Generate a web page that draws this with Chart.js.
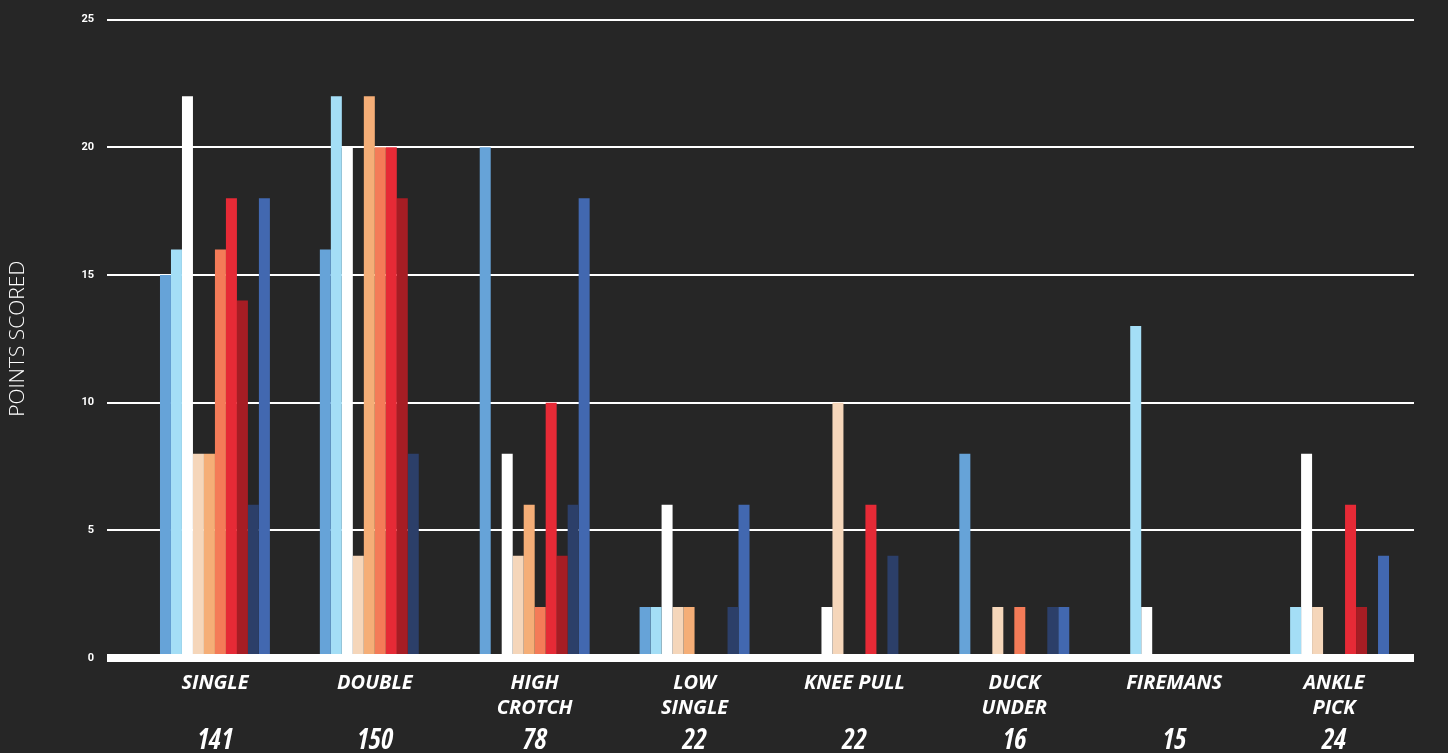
<!DOCTYPE html>
<html>
<head>
<meta charset="utf-8">
<script src="https://cdn.jsdelivr.net/npm/chart.js@4.4.1/dist/chart.umd.min.js"></script>
<style>
    html, body { margin: 0; padding: 0; background: #262626; }
    #wrap { width: 1448px; height: 753px; }
</style>
</head>
<body>
<div id="wrap"><canvas id="movesChart"></canvas></div>
<script>
// takedown types and total points per move
const moves = [['SINGLE'], ['DOUBLE'], ['HIGH', 'CROTCH'], ['LOW', 'SINGLE'], ['KNEE PULL'], ['DUCK', 'UNDER'], ['FIREMANS'], ['ANKLE', 'PICK']];
const totals = [141, 150, 78, 22, 22, 16, 15, 24];

// points scored per move, one array per wrestler (left to right in each group)
const wrestler1 = [15, 16, 20, 2, 0, 8, 0, 0];
const wrestler2 = [16, 22, 0, 2, 0, 0, 13, 2];
const wrestler3 = [22, 20, 8, 6, 2, 0, 2, 8];
const wrestler4 = [8, 4, 4, 2, 10, 2, 0, 2];
const wrestler5 = [8, 22, 6, 2, 0, 0, 0, 0];
const wrestler6 = [16, 20, 2, 0, 0, 2, 0, 0];
const wrestler7 = [18, 20, 10, 0, 6, 0, 0, 6];
const wrestler8 = [14, 18, 4, 0, 0, 0, 0, 2];
const wrestler9 = [6, 8, 6, 2, 4, 2, 0, 0];
const wrestler10 = [18, 0, 18, 6, 0, 2, 0, 4];

const yTicks = [0, 5, 10, 15, 20, 25];

const series = [wrestler1, wrestler2, wrestler3, wrestler4, wrestler5, wrestler6, wrestler7, wrestler8, wrestler9, wrestler10];
const colors = [
    '#66a3d8', '#a4def6', '#ffffff', '#f5d6ba', '#f5ae77',
    '#f47b58', '#e62a36', '#a61d24', '#2c3f69', '#4268b0'
];

// no narrow font installed, Open Sans has a width axis so use it for the condensed bits
const sans = "'Open Sans', sans-serif";

new Chart(document.getElementById('movesChart'), {
    type: 'bar',
    data: {
        labels: moves,
        datasets: series.map((d, i) => ({
            label: 'Wrestler ' + (i + 1),
            data: d,
            backgroundColor: colors[i],
            borderWidth: 0,
            barPercentage: 1,
            categoryPercentage: 0.6875
        }))
    },
    options: {
        responsive: true,
        maintainAspectRatio: false,
        animation: false,
        layout: { padding: { left: 0, right: 34, top: 10, bottom: 0 } },
        plugins: {
            legend: { display: false },
            tooltip: { enabled: false }
        },
        scales: {
            x: {
                weight: 0,
                grid: { display: false, drawTicks: false },
                border: { display: false },
                ticks: {
                    color: '#ffffff',
                    maxRotation: 0,
                    autoSkip: false,
                    padding: 13,
                    font: { family: sans, size: 20, weight: 'bold', style: 'italic', lineHeight: 25 / 20 }
                },
                afterFit: (s) => { s.height = 64; }
            },
            x2: {
                type: 'category',
                position: 'bottom',
                weight: 1,
                labels: totals.map(String),
                offset: true,
                grid: { display: false, drawTicks: false },
                border: { display: false },
                ticks: {
                    color: '#ffffff',
                    maxRotation: 0,
                    autoSkip: false,
                    padding: 2,
                    font: { family: sans, size: 28, weight: 'bold condensed', style: 'italic', lineHeight: 1.2 }
                },
                afterFit: (s) => { s.height = 31; }
            },
            y: {
                min: 0,
                max: 25,
                z: 1,
                afterBuildTicks: (s) => { s.ticks = yTicks.map(v => ({ value: v })); },
                grid: {
                    color: '#ffffff',
                    lineWidth: (c) => c.tick && c.tick.value === 0 ? 8 : 2,
                    drawTicks: true,
                    tickLength: 28,
                    tickColor: '#ffffff'
                },
                border: { display: false },
                ticks: {
                    color: '#ffffff',
                    padding: 13,
                    font: { family: 'Roboto', size: 11, weight: 'bold' }
                },
                title: {
                    display: true,
                    text: 'POINTS SCORED',
                    color: '#ffffff',
                    padding: { top: 5, bottom: 0 },
                    font: { family: sans, size: 21, weight: '300', lineHeight: 1.2 }
                },
                afterFit: (s) => { s.width = 135; }
            }
        }
    }
});
</script>
</body>
</html>
